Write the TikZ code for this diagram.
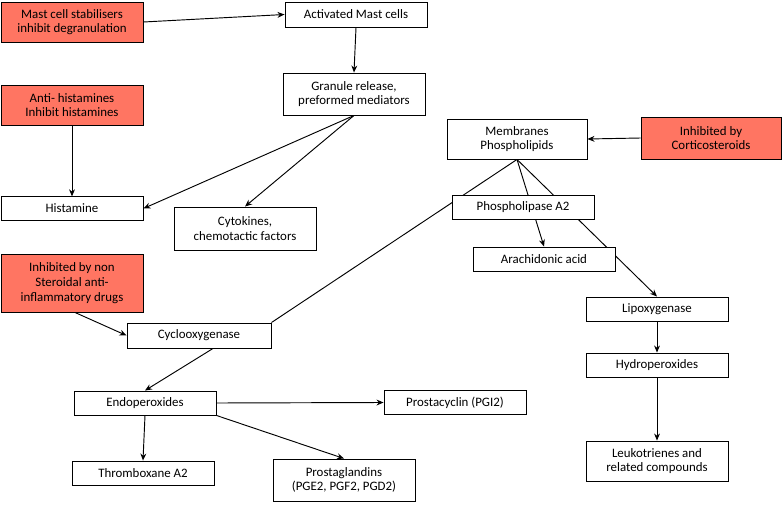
\documentclass[tikz,border=0pt]{standalone}
\usepackage{fontspec}
\setmainfont{Carlito}
\usetikzlibrary{backgrounds,arrows.meta}

\begin{document}
\begin{tikzpicture}[
  x=0.03cm, y=-0.03cm,
  box/.style={draw, thick, fill=white, minimum width=4.26cm, align=center,
    inner sep=1pt, font=\fontsize{11}{12.5}\selectfont},
  drug/.style={box, fill=red!55!white!85!orange},
  arr/.style={thick, -{Stealth[length=6pt,width=5pt]}},
]
\useasboundingbox (0,0) rectangle (783,508);

\node [drug, minimum height=1.2cm] (stab) at (72,22) {Mast cell stabilisers\\inhibit degranulation};
\node [box, minimum height=0.75cm] (mast) at (356,14.5) {Activated Mast cells};
\node [box, minimum height=1.26cm] (gran) at (354,94) {Granule release,\\preformed mediators};
\node [drug, minimum height=1.2cm] (antih) at (72,105) {Anti- histamines\\Inhibit histamines};
\node [box, minimum height=0.7cm] (hist) at (72,208.5) {Histamine};
\node [box, minimum height=1.29cm] (cyto) at (245,228.5) {Cytokines,\\chemotactic factors};
\node [box, minimum height=1.2cm, minimum width=4.2cm] (memb) at (517,139) {Membranes\\Phospholipids};
\node [drug, minimum height=1.26cm, minimum width=4.2cm] (cort) at (711,138) {Inhibited by\\Corticosteroids};
\node [drug, minimum height=1.74cm] (nsaid) at (72,283) {Inhibited by non\\Steroidal anti-\\inflammatory drugs};
\node [box, minimum height=0.75cm, minimum width=4.32cm] (cox) at (199,335.5) {Cyclooxygenase};
\node [box, minimum height=0.72cm] (plase) at (523,207) {Phospholipase A2};
\node [box, minimum height=0.72cm] (arach) at (544,259) {Arachidonic acid};
\node [box, minimum height=0.72cm] (lipo) at (657,309) {Lipoxygenase};
\node [box, minimum height=0.72cm] (hydro) at (657,365) {Hydroperoxides};
\node [box, minimum height=1.2cm] (leuko) at (657,461) {Leukotrienes and\\related compounds};
\node [box, minimum height=0.72cm] (endo) at (145,403) {Endoperoxides};
\node [box, minimum height=0.7cm] (pgi) at (455,402.5) {Prostacyclin (PGI2)};
\node [box, minimum height=0.72cm] (txa) at (143,473) {Thromboxane A2};
\node [box, minimum height=1.26cm] (pg) at (344,480) {Prostaglandins\\(PGE2, PGF2, PGD2)};

% pathway lines behind the boxes
\begin{scope}[on background layer]
\draw [thick] (memb.south) -- (cox.north east);
\draw [arr] (memb.south) -- (arach.north);
\draw [arr] (memb.south) -- (lipo.north);
\end{scope}

\draw [arr] (stab.east) -- (mast.west);
\draw [arr] (mast.south) -- (gran.north);
\draw [arr] (gran.south) -- (hist.east);
\draw [arr] (gran.south) -- (cyto.north);
\draw [arr] (antih.south) -- (hist.north);
\draw [arr] (cort.west) -- (memb.east);
\draw [arr] (nsaid.south) ++(3,0) -- (cox.west);
\draw [arr] (cox.south) ++(14,0) -- (endo.north);
\draw [arr] (endo.east) -- (pgi.west);
\draw [arr] (endo.south) -- (txa.north);
\draw [arr] (endo.south east) -- (pg.north);
\draw [arr] (lipo.south) -- (hydro.north);
\draw [arr] (hydro.south) -- (leuko.north);
\end{tikzpicture}
\end{document}
